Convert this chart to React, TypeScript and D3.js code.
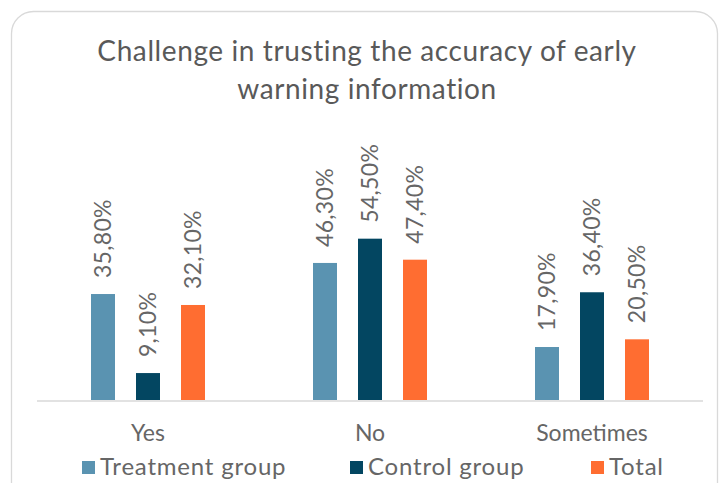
import React from "react";
import * as d3 from "d3";

const categories = ["Yes", "No", "Sometimes"];
const seriesNames = ["Treatment group", "Control group", "Total"];
const treatment = [35.8, 46.3, 17.9];
const control = [9.1, 54.5, 36.4];
const total = [32.1, 47.4, 20.5];
const colors = ["#5a93b1", "#034661", "#ff6d31"];
const titleLines = ["Challenge in trusting the accuracy of early", "warning information"];

const W = 719;
const H = 483;

export default function App() {
  const seriesValues = [treatment, control, total];
  const x0 = d3.scaleBand<string>().domain(categories).range([37, 703]).padding(0);
  const x1 = d3
    .scaleBand<string>()
    .domain(seriesNames)
    .range([-57, 57])
    .paddingInner(21 / 45)
    .paddingOuter(0);
  const y = d3.scaleLinear().domain([0, 60]).range([400, 400 - 60 * 2.96]);
  const fmt = (v: number) => v.toFixed(2).replace(".", ",") + "%";
  const font = "Lato, 'Open Sans', sans-serif";
  const textColor = "#666666";
  const legendX = [82, 350, 591];

  return (
    <div style={{ position: "fixed", left: 0, top: 0 }}>
      <svg width={W} height={H} style={{ display: "block", fontFamily: font }}>
        <rect x={0} y={0} width={W} height={H} fill="#ffffff" />
        <rect x={11.5} y={11.5} width={706} height={520} rx={22} ry={22} fill="#ffffff" stroke="#d9d9d9" strokeWidth={1.3} />
        {titleLines.map((t, i) => (
          <text key={i} x={367} y={61 + i * 38} textAnchor="middle" fontSize={28} letterSpacing={0.6} fill="#595959">
            {t}
          </text>
        ))}
        {categories.map((c, ci) => {
          const cx = (x0(c) as number) + x0.bandwidth() / 2;
          return (
            <g key={c}>
              {seriesNames.map((s, si) => {
                const v = seriesValues[si][ci];
                const bx = cx + (x1(s) as number);
                const bw = x1.bandwidth();
                const top = y(v);
                return (
                  <g key={s}>
                    <rect x={bx} y={top} width={bw} height={y(0) - top} fill={colors[si]} />
                    <text
                      transform={`translate(${bx + bw / 2},${top - 16}) rotate(-90)`}
                      dy="0.36em"
                      textAnchor="start"
                      fontSize={23}
                      letterSpacing={0.3}
                      fill={textColor}
                    >
                      {fmt(v)}
                    </text>
                  </g>
                );
              })}
              <text x={cx} y={441} textAnchor="middle" fontSize={23} fill={textColor}>
                {c}
              </text>
            </g>
          );
        })}
        <line x1={37} x2={703} y1={401} y2={401} stroke="#d9d9d9" strokeWidth={1.6} />
        {seriesNames.map((s, i) => (
          <g key={s}>
            <rect x={legendX[i]} y={461} width={13} height={13} fill={colors[i]} />
            <text x={legendX[i] + 18} y={475} fontSize={24} letterSpacing={0.8} fill={textColor}>
              {s}
            </text>
          </g>
        ))}
      </svg>
    </div>
  );
}
